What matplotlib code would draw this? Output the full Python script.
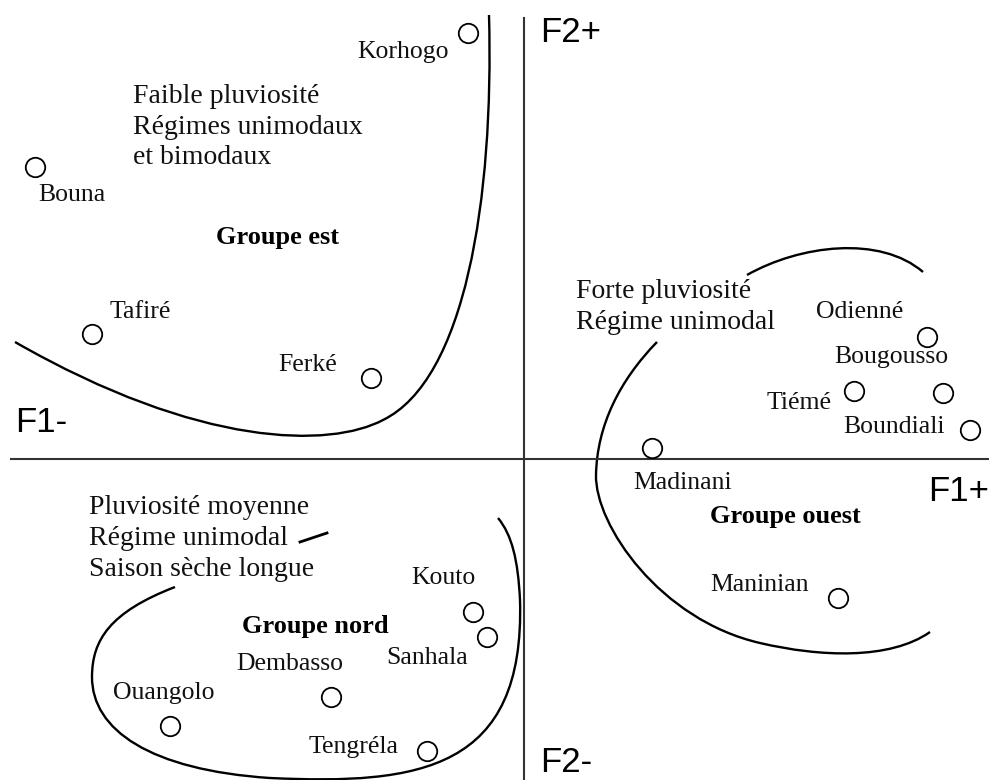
import numpy as np
import matplotlib as mpl
import matplotlib.pyplot as plt
from matplotlib.path import Path
from matplotlib.patches import PathPatch

mpl.rcParams['font.family'] = 'serif'
mpl.rcParams['font.serif'] = ['Liberation Serif', 'DejaVu Serif']

# station scores on the first factorial plane (F1, F2)
stations = ['Korhogo', 'Bouna', 'Tafiré', 'Ferké',
            'Odienné', 'Bougousso', 'Tiémé', 'Boundiali', 'Madinani', 'Maninian',
            'Kouto', 'Sanhala', 'Dembasso', 'Ouangolo', 'Tengréla']
f1 = [-0.56, -4.89, -4.32, -1.53,
      4.03, 4.19, 3.30, 4.46, 1.28, 3.14,
      -0.51, -0.37, -1.93, -3.54, -0.97]
f2 = [4.26, 2.92, 1.25, 0.81,
      1.22, 0.66, 0.68, 0.29, 0.11, -1.39,
      -1.53, -1.78, -2.38, -2.67, -2.92]

groups = ['Groupe est', 'Groupe nord', 'Groupe ouest']
group_f1 = [-2.46, -2.09, 2.61]
group_f2 = [2.21, -1.67, -0.58]

notes_est = ['Faible pluviosité', 'Régimes unimodaux', 'et bimodaux']
notes_ouest = ['Forte pluviosité', 'Régime unimodal']
notes_nord = ['Pluviosité moyenne', 'Régime unimodal', 'Saison sèche longue']

# hand-drawn group envelopes (cubic bezier control points)
env_est = [(-0.35, 4.44), (-0.30, 2.59), (-0.59, 0.79), (-1.41, 0.39),
           (-1.94, 0.11), (-3.24, 0.11), (-5.09, 1.17)]
env_ouest_top = [(2.23, 1.84), (2.76, 2.14), (3.56, 2.24), (3.99, 1.87)]
env_ouest = [(1.33, 1.17), (0.96, 0.79), (0.73, 0.34), (0.72, -0.16),
             (0.71, -0.66), (1.36, -1.61), (2.36, -1.84),
             (2.96, -1.98), (3.66, -2.01), (4.06, -1.73)]
env_nord = [(-3.49, -1.28), (-4.14, -1.53), (-4.32, -1.81), (-4.32, -2.18),
            (-4.32, -2.71), (-3.74, -3.11), (-2.54, -3.19),
            (-1.04, -3.26), (0.01, -3.11), (-0.04, -1.41),
            (-0.06, -1.01), (-0.12, -0.76), (-0.26, -0.59)]
env_nord_piece = [(-2.24, -0.83), (-1.97, -0.74)]

# label placement (offset in pixels from the point, alignment)
label_pos = {
    'Korhogo': (-19, -19, 'right'), 'Bouna': (3, -28, 'left'),
    'Tafiré': (18, 22, 'left'), 'Ferké': (-34, 13, 'right'),
    'Odienné': (-24, 25, 'right'), 'Bougousso': (5, 36, 'right'),
    'Tiémé': (-22, -12, 'right'), 'Boundiali': (-25, 3, 'right'),
    'Madinani': (-19, -35, 'left'), 'Maninian': (-29, 13, 'right'),
    'Kouto': (3, 34, 'right'), 'Sanhala': (-19, -21, 'right'),
    'Dembasso': (12, 33, 'right'), 'Ouangolo': (45, 33, 'right'),
    'Tengréla': (-28, 4, 'right'),
}

fig = plt.figure(figsize=(9.89, 7.80), dpi=100)
ax = fig.add_axes([0, 0, 1, 1])
ax.set_xlim(-5.24, 4.65)
ax.set_ylim(-3.21, 4.59)
ax.axis('off')

# factorial axes
ax.plot([-5.13, 4.65], [0, 0], color='#333333', lw=1.5)
ax.plot([0, 0], [-3.21, 4.41], color='#333333', lw=1.5)
ax.text(0.16, 4.26, 'F2+', family='Liberation Sans', fontsize=25, va='center')
ax.text(0.16, -3.04, 'F2-', family='Liberation Sans', fontsize=25, va='center')
ax.text(-5.09, 0.36, 'F1-', family='Liberation Sans', fontsize=25, va='center')
ax.text(4.04, -0.33, 'F1+', family='Liberation Sans', fontsize=25, va='center')


def bezier(pts):
    codes = [Path.MOVETO] + [Path.CURVE4] * (len(pts) - 1)
    return PathPatch(Path(pts, codes), fc='none', ec='black', lw=1.7)


for env in [env_est, env_ouest_top, env_ouest, env_nord]:
    ax.add_patch(bezier(env))
ax.plot(*zip(*env_nord_piece), color='black', lw=2)

ax.plot(f1, f2, 'o', ms=14, mfc='white', mec='black', mew=1.3)
for name, x, y in zip(stations, f1, f2):
    dx, dy, ha = label_pos[name]
    ax.annotate(name, (x, y), xytext=(dx, dy), textcoords='offset pixels',
                ha=ha, va='center', fontsize=18.5, color='#111111')

for name, x, y in zip(groups, group_f1, group_f2):
    ax.text(x, y, name, ha='center', va='center', fontsize=19, fontweight='bold')

for lines, x0, y0 in [(notes_est, -3.91, 3.62), (notes_ouest, 0.52, 1.67),
                      (notes_nord, -4.35, -0.48)]:
    step = 0.305 if lines is not notes_nord else 0.315
    for i, line in enumerate(lines):
        ax.text(x0, y0 - i * step, line, ha='left', va='center', fontsize=20,
                color='#111111')

fig.savefig('out.png', dpi=100)
